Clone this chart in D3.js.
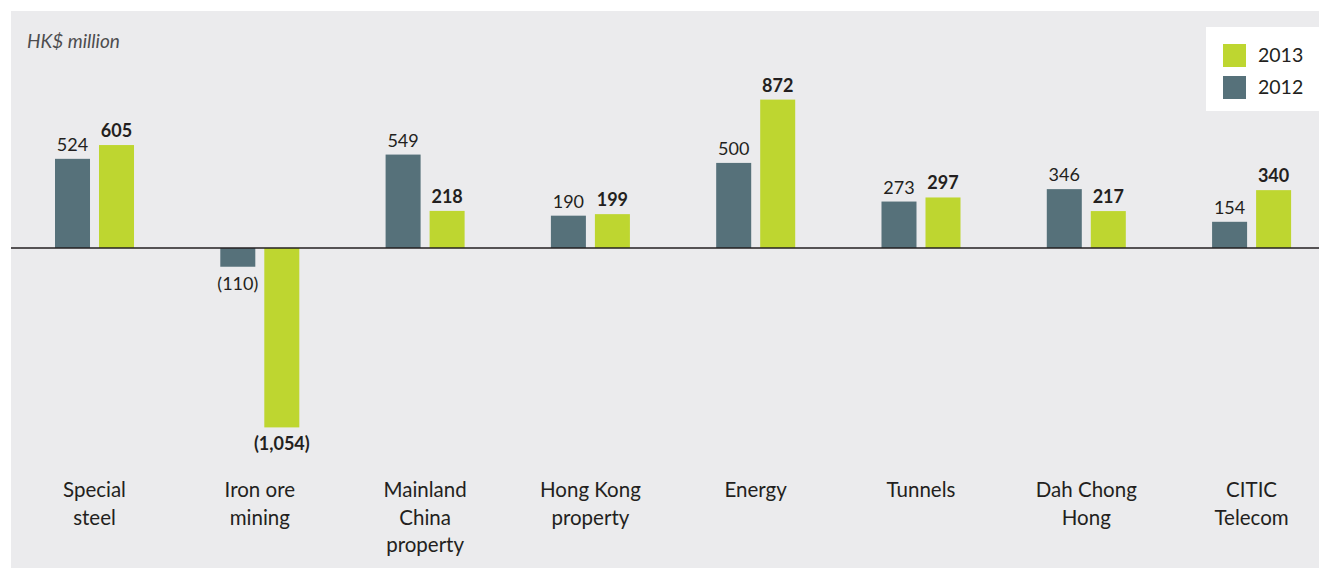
<!DOCTYPE html>
<html>
<head>
<meta charset="utf-8">
<script src="https://cdn.jsdelivr.net/npm/d3@7"></script>
<style>
  html, body { margin: 0; padding: 0; background: #ffffff; }
  svg { display: block; }
  text { font-family: Lato, "Open Sans", sans-serif; fill: #231f20; }
</style>
</head>
<body>
<svg id="chart" width="1319" height="570"></svg>
<script>
// Contribution by business, HK$ million
const categories = [
  ["Special", "steel"],
  ["Iron ore", "mining"],
  ["Mainland", "China", "property"],
  ["Hong Kong", "property"],
  ["Energy"],
  ["Tunnels"],
  ["Dah Chong", "Hong"],
  ["CITIC", "Telecom"]
];
const values2012 = [524, -110, 549, 190, 500, 273, 346, 154];
const values2013 = [605, -1054, 218, 199, 872, 297, 217, 340];
const seriesNames = ["2013", "2012"];
const unitLabel = "HK$ million";

const W = 1319, H = 570;
const colors = { "2012": "#56717a", "2013": "#bed630" };
const svg = d3.select("#chart");

// panel background
svg.append("rect")
  .attr("x", 11).attr("y", 11)
  .attr("width", W - 11).attr("height", 557)
  .attr("fill", "#ebebed");

const x = d3.scaleBand()
  .domain(d3.range(categories.length))
  .range([55, 1291.1])
  .paddingInner(0.522)
  .paddingOuter(0);

const inner = d3.scaleBand()
  .domain(["2012", "2013"])
  .range([0, x.bandwidth()])
  .paddingInner(9 / 44);

const y = d3.scaleLinear()
  .domain([-1054, 872])
  .range([427.4, 99.6]);

const fmt = v => {
  const s = d3.format(",")(Math.abs(v));
  return v < 0 ? "(" + s + ")" : s;
};

const groups = svg.append("g").selectAll("g")
  .data(categories.map((c, i) => ({ i, c, v12: values2012[i], v13: values2013[i] })))
  .join("g")
  .attr("transform", d => `translate(${x(d.i)},0)`);

const bars = groups.selectAll("g.s")
  .data(d => [
    { key: "2012", v: d.v12, bold: false },
    { key: "2013", v: d.v13, bold: true }
  ])
  .join("g").attr("class", "s");

bars.append("rect")
  .attr("x", d => inner(d.key))
  .attr("width", inner.bandwidth())
  .attr("y", d => y(Math.max(0, d.v)))
  .attr("height", d => Math.abs(y(d.v) - y(0)))
  .attr("fill", d => colors[d.key]);

bars.append("text")
  .attr("x", d => inner(d.key) + inner.bandwidth() / 2)
  .attr("y", d => d.v >= 0 ? y(d.v) - 8 : y(d.v) + 23)
  .attr("text-anchor", "middle")
  .attr("font-size", 18)
  .attr("font-weight", d => d.bold ? 700 : 400)
  .text(d => fmt(d.v));

// category labels
groups.append("text")
  .attr("x", x.bandwidth() / 2)
  .attr("y", 497)
  .attr("text-anchor", "middle")
  .attr("font-size", 20.5)
  .selectAll("tspan")
  .data(d => d.c)
  .join("tspan")
  .attr("x", x.bandwidth() / 2)
  .attr("dy", (d, j) => j === 0 ? 0 : 27.5)
  .text(d => d);

// zero line
svg.append("line")
  .attr("x1", 11).attr("x2", W)
  .attr("y1", y(0)).attr("y2", y(0))
  .attr("stroke", "#231f20").attr("stroke-width", 1.5);

// unit label
svg.append("text")
  .attr("x", 27).attr("y", 48)
  .attr("font-size", 19)
  .attr("font-style", "italic")
  .style("fill", "#4d4d4f")
  .text(unitLabel);

// legend
const lg = svg.append("g");
lg.append("rect")
  .attr("x", 1206).attr("y", 27)
  .attr("width", W - 1206).attr("height", 84)
  .attr("fill", "#ffffff");
seriesNames.forEach((s, i) => {
  lg.append("rect")
    .attr("x", 1223).attr("y", 44 + i * 32)
    .attr("width", 23).attr("height", 23)
    .attr("fill", colors[s]);
  lg.append("text")
    .attr("x", 1258).attr("y", 62 + i * 32)
    .attr("font-size", 19.5)
    .text(s);
});
</script>
</body>
</html>
